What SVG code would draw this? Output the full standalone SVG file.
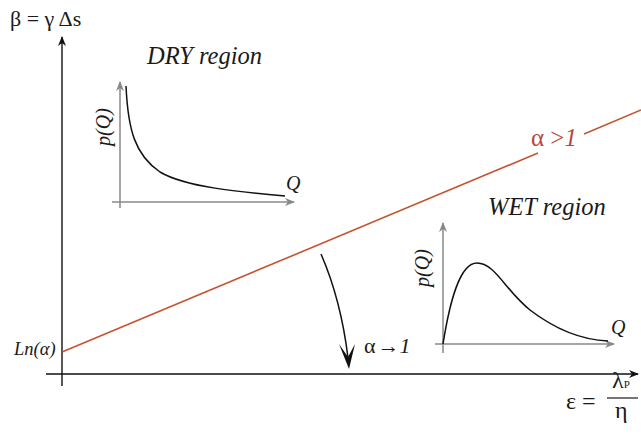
<svg xmlns="http://www.w3.org/2000/svg" width="641" height="439" viewBox="0 0 641 439" font-family="'Liberation Serif', 'Times New Roman', serif">
<style>
text{fill:#1a1a1a}
.it{font-style:italic}
.ax{stroke:#111;stroke-width:1.4;fill:none}
.gax{stroke:#888;stroke-width:1.5;fill:none}
.curve{stroke:#111;stroke-width:1.5;fill:none}
.red{stroke:#c4532f;stroke-width:1.6;fill:none}
</style>
<defs>
<marker id="ah" markerWidth="10" markerHeight="8" refX="9" refY="4" orient="auto" markerUnits="userSpaceOnUse"><path d="M0,0 L10,4 L0,8 L3,4 Z" fill="#111"/></marker>
<marker id="gh" markerWidth="10" markerHeight="8" refX="9" refY="4" orient="auto" markerUnits="userSpaceOnUse"><path d="M0,0 L10,4 L0,8 L3,4 Z" fill="#888"/></marker>
</defs>
<rect width="641" height="439" fill="#fff"/>
<g id="connectors">
<line class="ax" x1="62" y1="386" x2="62" y2="37" marker-end="url(#ah)"/>
<line class="ax" x1="46" y1="374" x2="638" y2="374" marker-end="url(#ah)"/>
<line class="red" x1="62" y1="352" x2="538" y2="153"/>
<line class="red" x1="584" y1="134" x2="641" y2="110"/>
<path class="curve" d="M321,254 Q341,300 348,358" stroke-width="1.8"/>
<path d="M339,344 L349,369 L355,344 L348,357 Z" fill="#111"/>
</g>
<g id="y-label"><text x="10" y="26" font-size="22">β = γ Δs</text></g>
<g id="x-label">
<text x="566" y="409" font-size="24">ε =</text>
<line x1="607" y1="398" x2="638" y2="398" stroke="#1a1a1a" stroke-width="1.2"/>
<text x="612" y="388" font-size="24">λ<tspan font-size="11">P</tspan></text>
<text x="615" y="418" font-size="24">η</text>
</g>
<g id="intercept"><text x="14" y="355" font-size="18.5" class="it">Ln(α)</text></g>
<g id="alpha-gt-1"><text x="531" y="146" font-size="25" style="fill:#b8473a">α &gt;<tspan class="it">1</tspan></text></g>
<g id="alpha-to-1"><text x="364" y="353" font-size="22">α<tspan dx="2">→</tspan><tspan class="it">1</tspan></text></g>
<g id="dry-region">
<text x="147" y="64" font-size="24.5" class="it">DRY region</text>
<line class="gax" x1="120" y1="208" x2="120" y2="82" marker-end="url(#gh)"/>
<line class="gax" x1="112" y1="202" x2="294" y2="202" marker-end="url(#gh)"/>
<path class="curve" d="M126,86 C128,130 135,155 160,172 C185,187 240,192 285,196"/>
<text x="286" y="190" font-size="20" class="it">Q</text>
<text transform="translate(110,127) rotate(-90)" text-anchor="middle" font-size="20" class="it">p(Q)</text>
</g>
<g id="wet-region">
<text x="488" y="215" font-size="24.5" class="it">WET region</text>
<line class="gax" x1="443" y1="353" x2="443" y2="223" marker-end="url(#gh)"/>
<line class="gax" x1="435" y1="344" x2="614" y2="344" marker-end="url(#gh)"/>
<path class="curve" d="M443,344 C450,300 460,263 477,263 C495,263 505,290 530,310 C560,333 585,340 608,341"/>
<text x="611" y="334" font-size="20" class="it">Q</text>
<text transform="translate(429,268) rotate(-90)" text-anchor="middle" font-size="20" class="it">p(Q)</text>
</g>
</svg>
